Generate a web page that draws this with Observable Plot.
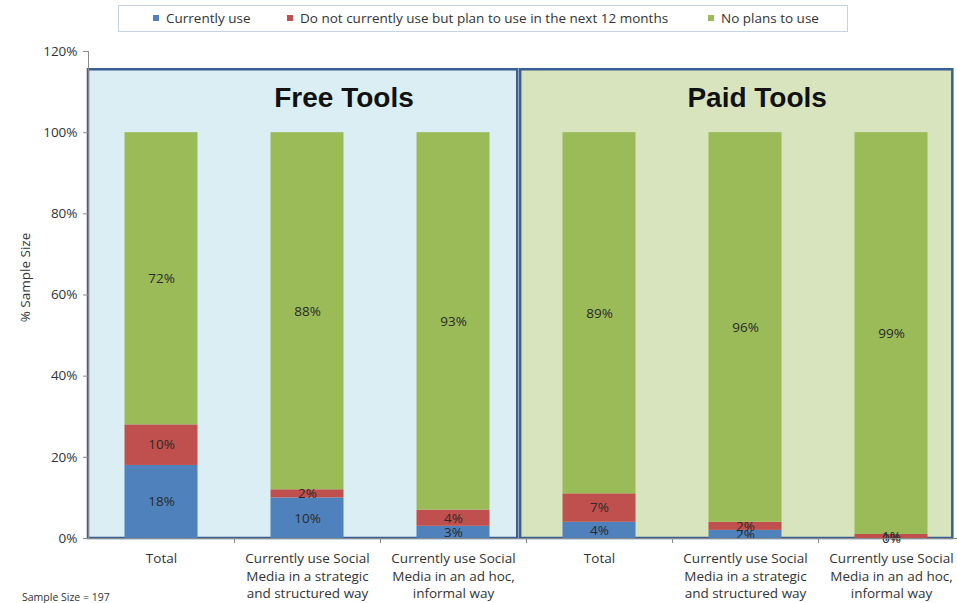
<!DOCTYPE html>
<html>
<head>
<meta charset="utf-8">
<script src="https://cdn.jsdelivr.net/npm/d3@7"></script>
<script src="https://cdn.jsdelivr.net/npm/@observablehq/plot@0.6"></script>
<style>
  html, body { margin: 0; padding: 0; background: #fff; }
  body { width: 957px; height: 603px; position: relative; overflow: hidden; font-family: "Open Sans", Lato, sans-serif; }
  #legend { position: absolute; left: 118px; top: 5px; width: 730px; height: 27px; border: 1px solid #c5d3e3; box-sizing: border-box; background: #fff; font-size: 13.5px; color: #333; }
  .item { position: absolute; top: 3px; white-space: nowrap; }
  .sw { display: inline-block; width: 6px; height: 6px; margin-right: 7px; vertical-align: 2px; }
  #note { position: absolute; left: 22px; top: 590px; font-size: 10.5px; color: #333; }
  #chart { position: absolute; left: 0; top: 0; }
</style>
</head>
<body>
<div id="chart"></div>
<div id="legend"></div>
<div id="note">Sample Size = 197</div>
<script>
// ---- data ----
const categories = [
  "Total",
  "Currently use Social\nMedia in a strategic\nand structured way",
  "Currently use Social\nMedia in an ad hoc,\ninformal way",
  "Total",
  "Currently use Social\nMedia in a strategic\nand structured way",
  "Currently use Social\nMedia in an ad hoc,\ninformal way"
];
const groups = ["Free Tools", "Free Tools", "Free Tools", "Paid Tools", "Paid Tools", "Paid Tools"];
const seriesNames = ["Currently use", "Do not currently use but plan to use in the next 12 months", "No plans to use"];
const currentlyUse = [18, 10, 3, 4, 2, 0];
const planToUse = [10, 2, 4, 7, 2, 1];
const noPlans = [72, 88, 93, 89, 96, 99];
const panelNames = ["Free Tools", "Paid Tools"];
const yTicks = [0, 0.2, 0.4, 0.6, 0.8, 1.0, 1.2];

// ---- styles ----
const colors = ["#4f81bd", "#c0504d", "#9bbb59"];
const panelFills = ["#dbeef4", "#d8e4bd"];
const font = "'Open Sans', Lato, sans-serif";

// ---- build ----
const series = [currentlyUse, planToUse, noPlans];
const segments = [];
categories.forEach((c, i) => {
  let base = 0;
  series.forEach((vals, s) => {
    const v = vals[i] / 100;
    segments.push({i, series: seriesNames[s], y1: base, y2: base + v, label: vals[i] + "%", color: colors[s]});
    base += v;
  });
});
const catIdx = categories.map((c, i) => ({i, label: c}));
// panel layout (in category-index units)
const panels = panelNames.map((name, p) => ({
  name,
  x1: p === 0 ? -0.5 : 2.46,
  x2: p === 0 ? 2.44 : 5.42,
  titleX: p === 0 ? 1.25 : 4.08,
  fill: panelFills[p]
}));
const bounds = [0.5, 1.5, 2.5, 3.5, 4.5, 5.5];

const chart = Plot.plot({
  width: 957,
  height: 603,
  marginTop: 51,
  marginBottom: 65,
  marginLeft: 88,
  marginRight: 0,
  style: {fontFamily: font, fontSize: "13.5px", color: "#333", background: "transparent"},
  x: {type: "linear", domain: [-0.5, 5.5], range: [88, 964]},
  y: {domain: [0, 1.2], range: [538, 51]},
  marks: [
    Plot.rect(panels, {x1: "x1", x2: "x2", y1: 0, y2: 1.155, fill: "fill", stroke: "#3a5f92", strokeWidth: 2.5}),
    Plot.rect(segments, {x1: d => d.i - 0.25, x2: d => d.i + 0.25, y1: "y1", y2: "y2", fill: "color"}),
    Plot.text(segments, {x: "i", y: d => (d.y1 + d.y2) / 2, text: "label", fill: "#2a2a2a", fontSize: 13.5}),
    Plot.text(panels, {x: "titleX", y: 1.086, text: "name", fontSize: 28, fontWeight: "bold", fill: "#111", fontFamily: "'Liberation Sans', Arial, sans-serif"}),
    Plot.ruleX([-0.5], {y1: 0, y2: 1.2, stroke: "#8a8a8a"}),
    Plot.ruleY([0], {x1: -0.5, x2: 5.5, stroke: "#8a8a8a"}),
    Plot.axisY({ticks: yTicks, tickFormat: d3.format(".0%"), tickSize: 5, tickPadding: 6, label: null, stroke: "#8a8a8a", fill: "#333", fontSize: 13.5}),
    Plot.axisX({ticks: bounds, tickFormat: () => "", tickSize: 5, label: null, stroke: "#8a8a8a"}),
    Plot.text(catIdx, {x: "i", y: 0, text: "label", dy: 12, lineAnchor: "top", lineHeight: 1.3, fill: "#333", fontSize: 13.5}),
    Plot.text(["% Sample Size"], {x: -0.5, y: 0.643, text: d => d, rotate: -90, dx: -63, fill: "#333", fontSize: 13.5})
  ]
});
document.getElementById("chart").appendChild(chart);

// legend
const legend = document.getElementById("legend");
const legendX = [34, 168, 589];
seriesNames.forEach((n, s) => {
  const el = document.createElement("div");
  el.className = "item";
  el.style.left = legendX[s] + "px";
  el.innerHTML = `<span class="sw" style="background:${colors[s]}"></span>${n}`;
  legend.appendChild(el);
});
</script>
</body>
</html>
